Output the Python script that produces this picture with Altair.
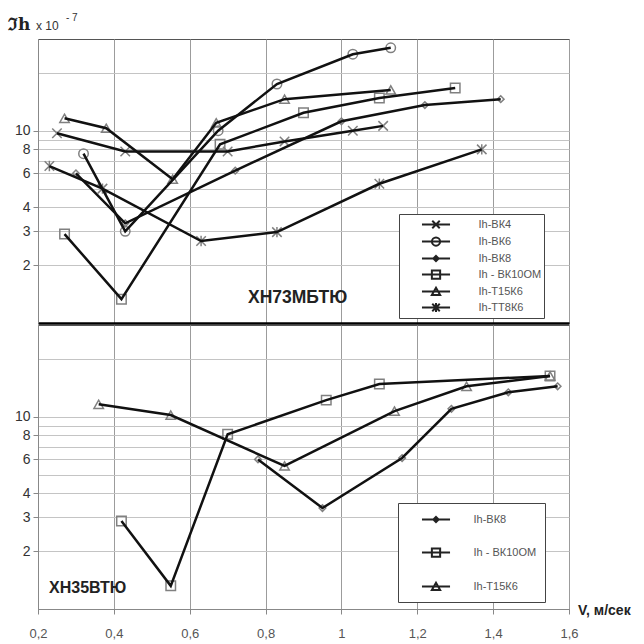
import altair as alt
import pandas as pd

# ---------------- data ----------------
SERIES_TOP = ["Ih-ВК4", "Ih-ВК6", "Ih-ВК8", "Ih - ВК10ОМ", "Ih-Т15К6", "Ih-ТТ8К6"]
SERIES_BOTTOM = ["Ih-ВК8", "Ih - ВК10ОМ", "Ih-Т15К6"]

PANEL_TOP = "ХН73МБТЮ"
PANEL_BOTTOM = "ХН35ВТЮ"

# ХН73МБТЮ
TOP_V_BK4 = [0.25, 0.43, 0.70, 0.85, 1.03, 1.11]
TOP_IH_BK4 = [9.7, 7.8, 7.8, 8.8, 10.0, 10.6]
TOP_V_BK6 = [0.32, 0.43, 0.675, 0.83, 1.03, 1.13]
TOP_IH_BK6 = [7.6, 3.0, 10.0, 17.5, 25.0, 27.0]
TOP_V_BK8 = [0.30, 0.43, 0.72, 1.00, 1.22, 1.42]
TOP_IH_BK8 = [6.0, 3.3, 6.2, 11.2, 13.6, 14.6]
TOP_V_BK10 = [0.27, 0.42, 0.68, 0.90, 1.10, 1.30]
TOP_IH_BK10 = [2.9, 1.33, 8.5, 12.4, 14.8, 16.7]
TOP_V_T15 = [0.27, 0.38, 0.555, 0.67, 0.85, 1.13]
TOP_IH_T15 = [11.6, 10.3, 5.6, 11.0, 14.6, 16.3]
TOP_V_TT8 = [0.23, 0.37, 0.63, 0.83, 1.10, 1.37]
TOP_IH_TT8 = [6.55, 5.0, 2.67, 2.97, 5.3, 8.0]

# ХН35ВТЮ
BOT_V_BK8 = [0.78, 0.95, 1.16, 1.29, 1.44, 1.57]
BOT_IH_BK8 = [6.0, 3.35, 6.1, 11.0, 13.4, 14.4]
BOT_V_BK10 = [0.42, 0.55, 0.70, 0.96, 1.10, 1.55]
BOT_IH_BK10 = [2.87, 1.32, 8.1, 12.2, 14.8, 16.3]
BOT_V_T15 = [0.36, 0.55, 0.85, 1.14, 1.33, 1.55]
BOT_IH_T15 = [11.6, 10.2, 5.55, 10.7, 14.4, 16.3]

X_TICKS = [0.2, 0.4, 0.6, 0.8, 1.0, 1.2, 1.4, 1.6]
Y_GRID = [2, 3, 4, 5, 6, 7, 8, 9, 10, 20]
Y_LABELS = [2, 3, 4, 6, 8, 10]

TITLE_MAIN = "ℑh"
TITLE_UNIT = "x 10"
TITLE_EXP = "- 7"
X_TITLE = "V, м/сек"

# ---------------- tables ----------------
def build(pairs):
    rows = []
    for name, xs, ys in pairs:
        for v, ih in zip(xs, ys):
            rows.append({"series": name, "v": v, "ih": ih})
    return pd.DataFrame(rows)

top_df = build([
    (SERIES_TOP[0], TOP_V_BK4, TOP_IH_BK4),
    (SERIES_TOP[1], TOP_V_BK6, TOP_IH_BK6),
    (SERIES_TOP[2], TOP_V_BK8, TOP_IH_BK8),
    (SERIES_TOP[3], TOP_V_BK10, TOP_IH_BK10),
    (SERIES_TOP[4], TOP_V_T15, TOP_IH_T15),
    (SERIES_TOP[5], TOP_V_TT8, TOP_IH_TT8),
])
bot_df = build([
    (SERIES_BOTTOM[0], BOT_V_BK8, BOT_IH_BK8),
    (SERIES_BOTTOM[1], BOT_V_BK10, BOT_IH_BK10),
    (SERIES_BOTTOM[2], BOT_V_T15, BOT_IH_T15),
])

MARKERS = {
    "Ih-ВК4": "M-1,-1L1,1M-1,1L1,-1",
    "Ih-ВК6": "circle",
    "Ih-ВК8": "M0,-0.7L0.7,0L0,0.7L-0.7,0Z",
    "Ih - ВК10ОМ": "square",
    "Ih-Т15К6": "triangle-up",
    "Ih-ТТ8К6": "M-1,-1L1,1M-1,1L1,-1M0,-1.1L0,1.1",
}
LINE = "M-1.87,0L1.87,0"
LEG_SYMBOLS = {
    "Ih-ВК4": LINE + "M-0.5,-0.5L0.5,0.5M-0.5,0.5L0.5,-0.5",
    "Ih-ВК6": LINE + "M0.55,0A0.55,0.55,0,1,1,-0.55,0A0.55,0.55,0,1,1,0.55,0Z",
    "Ih-ВК8": LINE + "M0,-0.35L0.35,0L0,0.35L-0.35,0Z",
    "Ih - ВК10ОМ": LINE + "M-0.55,-0.55L0.55,-0.55L0.55,0.55L-0.55,0.55Z",
    "Ih-Т15К6": LINE + "M0,-0.5L0.55,0.45L-0.55,0.45Z",
    "Ih-ТТ8К6": LINE + "M-0.5,-0.5L0.5,0.5M-0.5,0.5L0.5,-0.5M0,-0.6L0,0.6",
}

FONT = "Liberation Sans"
W, H = 531, 284

label_test = "indexof([2,3,4,6,8,10], datum.value) >= 0"


def y_enc():
    return alt.Y(
        "ih:Q",
        scale=alt.Scale(type="log", domain=[1, 30], nice=False),
        axis=alt.Axis(
            values=Y_GRID,
            labelExpr=label_test + " ? format(datum.value, 'd') : ''",
            title=None,
            tickSize=5,
            labelPadding=3,
            labelFont=FONT,
            labelFontSize=14,
            labelColor="#333",
            labelOverlap=False,
            domainColor="#888",
            tickColor="#888",
            tickOpacity={"condition": {"test": label_test, "value": 1}, "value": 0},
            gridColor="#c4c4c4",
        ),
    )


def x_enc(bottom):
    if bottom:
        ax = alt.Axis(
            values=X_TICKS,
            labelExpr="replace(toString(datum.value), '.', ',')",
            title=None,
            tickSize=5,
            labelPadding=13,
            labelFont=FONT,
            labelFontSize=13,
            labelColor="#555",
            labelFlush=False,
            labelOverlap=False,
            domainColor="#888",
            tickColor="#888",
            gridColor="#9c9c9c",
        )
    else:
        ax = alt.Axis(
            values=X_TICKS,
            labels=False,
            ticks=False,
            title=None,
            domainColor="#000",
            domainWidth=2.5,
            gridColor="#9c9c9c",
        )
    return alt.X("v:Q", scale=alt.Scale(domain=[0.2, 1.6], nice=False, zero=False), axis=ax)


def panel(df, series, bottom, leg):
    X = x_enc(bottom)
    base = alt.Chart(df)
    lines = base.mark_line(color="#111", strokeWidth=2.5).encode(
        x=X, y=y_enc(), detail="series:N"
    )
    points = base.mark_point(
        filled=False, stroke="#808080", strokeWidth=1.5, size=90, opacity=1
    ).encode(
        x=X,
        y=y_enc(),
        shape=alt.Shape(
            "series:N",
            scale=alt.Scale(domain=series, range=[MARKERS[s] for s in series]),
            legend=None,
        ),
    )
    legend_layer = base.transform_filter("false").mark_point(
        filled=False, color="#222", strokeWidth=2, size=225, opacity=1
    ).encode(
        x=X,
        y=y_enc(),
        shape=alt.Shape(
            "series:N",
            scale=alt.Scale(domain=series, range=[LEG_SYMBOLS[s] for s in series]),
            legend=alt.Legend(
                title=None,
                orient="none",
                legendX=leg["x"],
                legendY=leg["y"],
                padding=leg["pad"],
                rowPadding=leg["row"],
                symbolOffset=leg["so"],
                labelOffset=leg["lo"],
                symbolSize=225,
                symbolStrokeWidth=2,
                labelFont=FONT,
                labelFontSize=11,
                labelColor="#555",
                strokeColor="#444",
                fillColor="#ffffff",
            ),
        ),
    )
    layers = [points, lines, legend_layer]
    name = PANEL_BOTTOM if bottom else PANEL_TOP
    pos = (11, 263) if bottom else (210, 259)
    layers.append(
        alt.Chart(pd.DataFrame({"t": [name]}))
        .mark_text(align="left", baseline="middle", font=FONT,
                   fontSize=16 if bottom else 17.5,
                   fontWeight="bold", color="#222")
        .encode(x=alt.value(pos[0]), y=alt.value(pos[1]), text="t:N")
    )
    if bottom:
        layers.append(
            alt.Chart(pd.DataFrame({"t": [X_TITLE]}))
            .mark_text(align="left", baseline="middle", font=FONT, fontSize=14,
                       fontWeight="bold", color="#222")
            .encode(x=alt.value(540), y=alt.value(286), text="t:N")
        )
    else:
        layers.append(
            alt.Chart(pd.DataFrame({"t": [TITLE_MAIN]}))
            .mark_text(align="left", baseline="alphabetic", font="DejaVu Serif",
                       fontSize=17, fontWeight="bold", color="#222")
            .encode(x=alt.value(-30), y=alt.value(-9), text="t:N")
        )
        layers.append(
            alt.Chart(pd.DataFrame({"t": [TITLE_UNIT]}))
            .mark_text(align="left", baseline="alphabetic", font=FONT,
                       fontSize=12, color="#333")
            .encode(x=alt.value(-2), y=alt.value(-9), text="t:N")
        )
        layers.append(
            alt.Chart(pd.DataFrame({"t": [TITLE_EXP]}))
            .mark_text(align="left", baseline="top", font=FONT,
                       fontSize=10, color="#333")
            .encode(x=alt.value(28), y=alt.value(-26), text="t:N")
        )
    return alt.layer(*layers).resolve_scale(shape="independent").properties(width=W, height=H)


top = panel(top_df, SERIES_TOP, False,
            {"x": 361, "y": 175, "pad": 2, "row": 0, "so": 26.5, "lo": 34})
bottom = panel(bot_df, SERIES_BOTTOM, True,
               {"x": 360, "y": 178, "pad": 8, "row": 17, "so": 21.5, "lo": 29})

chart = (
    alt.vconcat(top, bottom, spacing=0)
    .resolve_scale(shape="independent")
    .properties(padding={"left": 7, "top": 12, "right": 0, "bottom": 0})
    .configure_view(stroke="#555")
)

chart.save("out.html", embed_options={"renderer": "svg", "actions": False})
